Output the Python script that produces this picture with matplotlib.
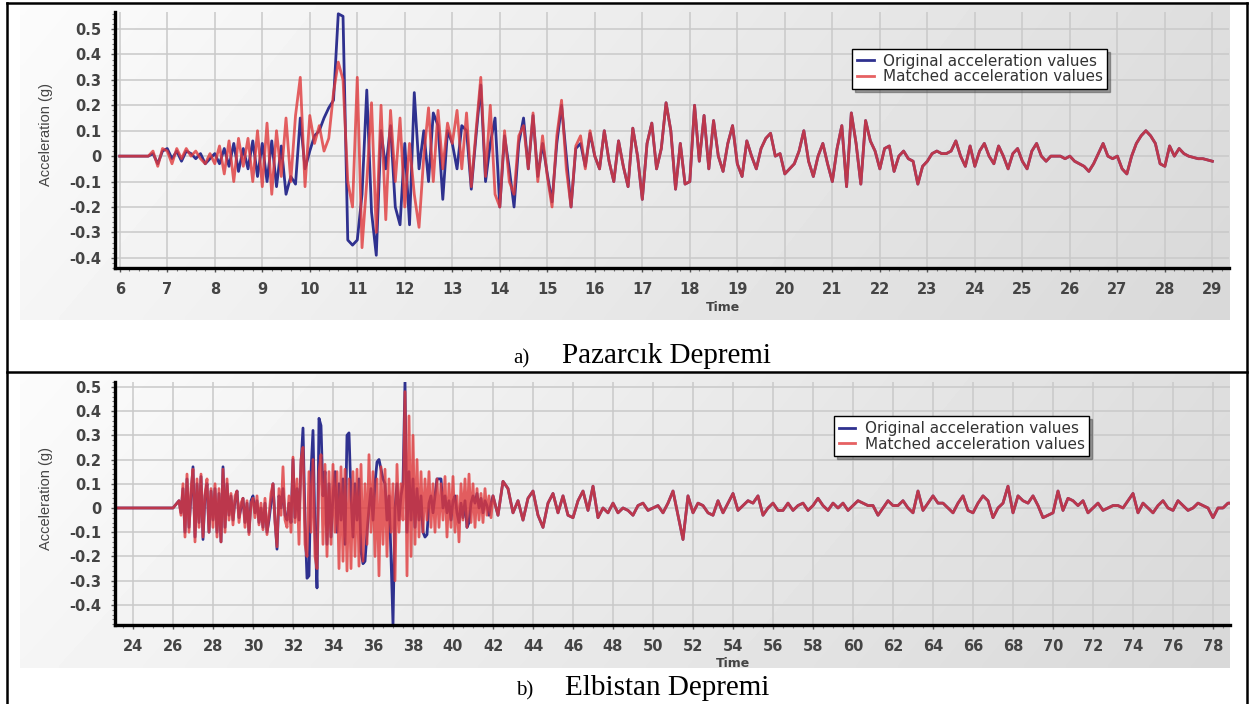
import numpy as np
import matplotlib.pyplot as plt
from matplotlib.lines import Line2D
from matplotlib.ticker import MultipleLocator, AutoMinorLocator

# --- a) Pazarcik: samples every 0.1 s starting at 6.0 s ---
pz_start, pz_dt = 6.0, 0.1
pz_original = [
    0.0, 0.0, 0.0, 0.0, 0.0, 0.0, 0.0, 0.01, -0.03, 0.02,            # 6
    0.03, -0.01, 0.02, -0.02, 0.02, 0.01, -0.01, 0.01, -0.03, -0.01,  # 7
    0.01, -0.03, 0.03, -0.04, 0.05, -0.06, 0.03, -0.05, 0.06, -0.08,  # 8
    0.05, -0.1, 0.06, -0.12, 0.04, -0.15, -0.08, -0.11, 0.15, -0.05,  # 9
    0.02, 0.08, 0.1, 0.15, 0.19, 0.22, 0.56, 0.55, -0.33, -0.35,      # 10
    -0.33, -0.15, 0.26, -0.22, -0.39, 0.1, -0.05, 0.12, -0.2, -0.27,  # 11
    0.05, -0.27, 0.25, -0.05, 0.1, -0.1, 0.17, 0.12, -0.17, 0.1,      # 12
    0.05, -0.05, 0.12, 0.1, -0.13, 0.08, 0.28, -0.1, 0.05, 0.15,      # 13
    -0.2, 0.08, -0.05, -0.2, 0.05, 0.15, -0.05, 0.16, -0.08, 0.05,    # 14
    -0.07, -0.18, 0.05, 0.2, 0.0, -0.2, 0.03, 0.05, -0.04, 0.09,      # 15
    0.0, -0.05, 0.1, -0.02, -0.1, 0.06, -0.04, -0.12, 0.11, 0.0,      # 16
    -0.17, 0.05, 0.13, -0.05, 0.03, 0.21, 0.1, -0.13, 0.05, -0.11,    # 17
    -0.1, 0.2, -0.02, 0.16, -0.05, 0.14, 0.0, -0.06, 0.05, 0.12,      # 18
    -0.03, -0.08, 0.06, 0.0, -0.05, 0.03, 0.07, 0.09, 0.0, 0.01,      # 19
    -0.07, -0.05, -0.03, 0.02, 0.1, -0.02, -0.08, 0.0, 0.05, -0.03,   # 20
    -0.1, 0.03, 0.12, -0.12, 0.17, 0.05, -0.11, 0.14, 0.06, 0.02,     # 21
    -0.05, 0.03, 0.04, -0.06, 0.0, 0.02, -0.01, -0.02, -0.11, -0.04,  # 22
    -0.02, 0.01, 0.02, 0.01, 0.01, 0.02, 0.06, 0.0, -0.04, 0.04,      # 23
    -0.04, 0.02, 0.05, 0.0, -0.03, 0.04, 0.0, -0.05, 0.01, 0.03,      # 24
    -0.02, -0.05, 0.02, 0.05, 0.0, -0.02, 0.0, 0.0, 0.0, -0.01,       # 25
    0.0, -0.02, -0.03, -0.04, -0.06, -0.03, 0.01, 0.05, 0.0, -0.01,   # 26
    0.0, -0.05, -0.07, 0.0, 0.05, 0.08, 0.1, 0.08, 0.05, -0.03,       # 27
    -0.04, 0.04, 0.0, 0.03, 0.01, 0.0, -0.005, -0.01, -0.01, -0.015,  # 28
    -0.02,                                                            # 29
]
# matched record differs up to ~16 s, then follows the original
pz_matched_head = [
    0.0, 0.0, 0.0, 0.0, 0.0, 0.0, 0.0, 0.02, -0.04, 0.03,             # 6
    0.02, -0.03, 0.03, -0.01, 0.03, 0.0, 0.02, -0.01, -0.03, 0.01,    # 7
    -0.03, 0.04, -0.07, 0.06, -0.1, 0.07, -0.04, 0.07, -0.1, 0.1,     # 8
    -0.12, 0.13, -0.15, 0.1, -0.08, 0.15, -0.1, 0.16, 0.31, -0.12,    # 9
    0.16, 0.05, 0.12, 0.02, 0.07, 0.25, 0.37, 0.3, -0.1, -0.2,        # 10
    0.31, -0.36, -0.1, 0.21, -0.3, 0.2, -0.25, 0.18, -0.1, 0.15,      # 11
    -0.2, 0.05, -0.15, -0.28, 0.0, 0.19, -0.1, 0.18, -0.05, 0.13,     # 12
    0.05, 0.18, -0.05, 0.17, -0.12, 0.1, 0.31, -0.08, 0.2, -0.15,     # 13
    -0.2, 0.1, -0.1, -0.15, 0.08, 0.12, -0.05, 0.17, -0.1, 0.08,      # 14
    -0.08, -0.2, 0.08, 0.22, -0.05, -0.2, 0.04, 0.08, -0.05, 0.1,     # 15
]

# --- b) Elbistan: quiet start, 0.1 s samples 26-42 s, then 0.25 s samples ---
eb_quiet_t = [23.1]
eb_quiet = [0.0]
eb_strong_start, eb_strong_dt = 26.0, 0.1
eb_original_strong = [
    0.0, 0.01, 0.02, 0.03, -0.02, 0.08, -0.1, 0.12, -0.08, 0.05,      # 26
    0.17, -0.12, 0.1, -0.06, 0.13, -0.13, 0.05, 0.1, -0.1, 0.07,      # 27
    -0.05, 0.08, -0.1, 0.06, -0.14, 0.17, -0.08, 0.1, -0.03, 0.05,    # 28
    -0.05, 0.03, 0.07, -0.04, 0.0, 0.04, -0.06, 0.02, -0.1, 0.03,     # 29
    0.05, -0.02, 0.03, -0.06, 0.0, -0.08, 0.02, -0.1, -0.05, 0.02,    # 30
    0.1, -0.05, -0.17, 0.05, 0.0, 0.08, -0.03, -0.05, 0.02, -0.06,    # 31
    0.2, -0.04, 0.08, -0.05, 0.18, 0.33, -0.05, -0.29, -0.28, 0.15,   # 32
    0.32, -0.1, -0.33, 0.37, 0.34, 0.05, 0.15, -0.15, 0.1, -0.12,     # 33
    0.05, 0.15, -0.1, 0.1, -0.05, 0.12, -0.15, 0.3, 0.31, 0.05,       # 34
    -0.12, 0.1, -0.05, 0.12, -0.18, -0.23, -0.22, -0.1, 0.0, 0.08,    # 35
    -0.05, 0.1, 0.19, 0.2, 0.16, 0.12, 0.1, -0.05, 0.05, -0.2,        # 36
    -0.48, 0.0, 0.1, -0.05, 0.05, 0.1, 0.52, -0.1, 0.15, -0.05,       # 37
    0.12, -0.08, 0.08, -0.05, 0.05, -0.1, -0.12, -0.11, 0.02, 0.05,   # 38
    -0.02, 0.05, 0.12, 0.12, 0.12, 0.0, 0.05, -0.02, 0.03, -0.05,     # 39
    0.03, 0.05, -0.02, -0.06, 0.02, -0.04, 0.03, -0.08, -0.06, 0.02,  # 40
    0.05, 0.02, 0.06, 0.0, 0.04, -0.02, 0.03, 0.01, -0.03, 0.02,      # 41
]
eb_matched_strong = [
    0.0, 0.01, 0.02, 0.03, -0.03, 0.1, -0.12, 0.14, -0.1, 0.08,       # 26
    0.16, -0.14, 0.12, -0.08, 0.14, -0.12, 0.06, 0.12, -0.1, 0.08,    # 27
    -0.08, 0.1, -0.12, 0.08, -0.14, 0.16, -0.1, 0.12, -0.05, 0.06,    # 28
    -0.07, 0.05, 0.07, -0.06, 0.02, 0.04, -0.08, 0.03, -0.11, 0.02,   # 29
    0.04, -0.04, 0.05, -0.07, 0.02, -0.09, 0.04, -0.11, -0.03, 0.06,  # 30
    0.1, -0.06, -0.16, 0.08, -0.03, 0.17, -0.05, -0.08, 0.05, -0.1,   # 31
    0.21, -0.06, 0.12, -0.15, 0.2, 0.25, -0.15, -0.2, 0.15, -0.1,     # 32
    0.2, -0.2, -0.25, 0.15, 0.22, -0.15, 0.18, -0.2, 0.15, -0.15,     # 33
    0.18, -0.1, 0.15, -0.25, 0.17, -0.22, 0.16, -0.26, 0.12, -0.25,   # 34
    0.15, -0.2, 0.16, -0.24, 0.18, -0.22, 0.1, -0.15, 0.22, -0.1,     # 35
    0.15, -0.2, 0.12, -0.28, 0.17, -0.15, 0.16, -0.2, 0.12, -0.1,     # 36
    0.1, -0.3, 0.18, -0.1, 0.1, -0.05, 0.48, -0.28, 0.38, -0.2,       # 37
    0.3, -0.15, 0.2, -0.12, 0.15, -0.1, 0.12, -0.05, 0.15, -0.08,     # 38
    0.1, -0.1, 0.12, -0.08, 0.1, -0.05, 0.13, -0.12, 0.1, -0.08,      # 39
    0.13, -0.1, 0.05, -0.14, 0.1, -0.05, 0.12, -0.08, 0.14, -0.06,    # 40
    0.1, -0.08, 0.08, -0.05, 0.06, -0.06, 0.08, -0.03, 0.05, -0.04,   # 41
]
# both records nearly coincide after 42 s
eb_tail_start, eb_tail_dt = 42.0, 0.25
eb_tail = [
    0.05, -0.03, 0.11, 0.08, -0.02, 0.03, -0.05, 0.04,     # 42-44
    0.07, -0.03, -0.08, 0.02, 0.06, -0.02, 0.05, -0.03,    # 44-46
    -0.04, 0.03, 0.07, -0.01, 0.09, -0.04, 0.0, -0.02,     # 46-48
    0.02, -0.02, 0.0, -0.01, -0.03, 0.01, 0.02, -0.01,     # 48-50
    0.0, 0.01, -0.02, 0.02, 0.07, -0.03, -0.13, 0.05,      # 50-52
    -0.02, 0.02, 0.01, -0.02, -0.03, 0.03, -0.02, 0.02,    # 52-54
    0.06, -0.01, 0.01, 0.03, 0.02, 0.05, -0.03, 0.0,       # 54-56
    0.02, -0.01, -0.01, 0.02, -0.01, 0.01, 0.02, -0.01,    # 56-58
    0.01, 0.04, 0.01, -0.01, 0.02, 0.0, 0.02, -0.01,       # 58-60
    0.01, 0.03, 0.02, 0.01, 0.01, -0.03, 0.0, 0.03,        # 60-62
    0.01, 0.01, 0.03, 0.0, -0.02, 0.07, -0.01, 0.02,       # 62-64
    0.05, 0.02, 0.02, 0.0, -0.02, 0.02, 0.05, -0.01,       # 64-66
    -0.02, 0.02, 0.05, 0.03, -0.04, 0.0, 0.02, 0.09,       # 66-68
    -0.02, 0.05, 0.03, 0.02, 0.05, 0.01, -0.04, -0.03,     # 68-70
    -0.02, 0.07, -0.01, 0.04, 0.03, 0.01, 0.03, -0.02,     # 70-72
    0.0, 0.02, -0.01, 0.0, 0.01, 0.01, 0.0, 0.03,          # 72-74
    0.06, -0.02, 0.02, 0.0, -0.02, 0.01, 0.03, 0.0,        # 74-76
    -0.01, 0.03, 0.01, -0.01, 0.0, 0.02, 0.01, 0.0,        # 76-78
    -0.04, 0.0, 0.0, 0.02, 0.02,                           # 78-79
]

legend_labels = ['Original acceleration values', 'Matched acceleration values']
captions = [('a)', 'Pazarcık Depremi'), ('b)', 'Elbistan Depremi')]

BLUE = '#2f318f'
RED = '#e0393b'
W, H = 1250, 704


def fig_rect(x0, y0, x1, y1):
    # pixel box (top-left origin) -> figure fraction rect
    return [x0 / W, 1 - y1 / H, (x1 - x0) / W, (y1 - y0) / H]


def backdrop(fig, box):
    bg = fig.add_axes(fig_rect(*box), zorder=0)
    gx = np.linspace(0.985, 0.87, 200)
    gy = np.linspace(1.0, 0.975, 60)
    bg.imshow(np.outer(gy, gx), cmap='gray', vmin=0, vmax=1,
              aspect='auto', interpolation='bilinear')
    bg.axis('off')


def draw_panel(fig, box, t, orig, matched, xlim, ylim, xstep, xminor,
               legend_xy, time_x):
    ax = fig.add_axes(fig_rect(*box), zorder=2)
    ax.set_facecolor('none')
    ax.plot(t, orig, color=BLUE, lw=2.0, label=legend_labels[0])
    ax.plot(t, matched, color=RED, lw=2.0, alpha=0.8, label=legend_labels[1])

    ax.set_xlim(*xlim)
    ax.set_ylim(*ylim)
    ax.xaxis.set_major_locator(MultipleLocator(xstep))
    ax.xaxis.set_minor_locator(AutoMinorLocator(xminor))
    ax.yaxis.set_major_locator(MultipleLocator(0.1))
    ax.yaxis.set_minor_locator(AutoMinorLocator(5))
    ax.yaxis.set_major_formatter(plt.FuncFormatter(lambda v, p: f'{v:g}' if abs(v) > 1e-9 else '0'))
    ax.grid(True, which='major', color='#c9c9c9', lw=1.1)
    ax.set_axisbelow(True)

    for side in ('top', 'right'):
        ax.spines[side].set_visible(False)
    for side in ('left', 'bottom'):
        ax.spines[side].set_linewidth(2.4)
        ax.spines[side].set_color('black')
    ax.tick_params(which='major', length=3, width=1, color='#555555',
                   labelsize=10.5, labelcolor='#444444', pad=7)
    ax.tick_params(which='minor', length=2, width=0.8, color='#777777')
    for lab in ax.get_xticklabels() + ax.get_yticklabels():
        lab.set_fontweight('bold')

    ax.set_xlabel('Time', fontsize=9, fontweight='bold', color='#444444')
    ax.xaxis.set_label_coords(time_x, -0.13)
    ax.set_ylabel('Acceleration (g)', fontsize=10.5, color='#444444',
                  family='Liberation Sans')
    ax.yaxis.set_label_coords(-0.056, 0.52)

    leg = ax.legend(loc='upper left', bbox_to_anchor=legend_xy, fontsize=11,
                    handlelength=1.1, handletextpad=0.6, labelspacing=0.05,
                    borderpad=0.3, fancybox=False, shadow=True,
                    edgecolor='black', framealpha=1)
    leg.get_frame().set_linewidth(1.0)
    for txt in leg.get_texts():
        txt.set_color('#333333')
    return ax


fig = plt.figure(figsize=(12.5, 7.04), dpi=100)

# panel a
t_a = pz_start + pz_dt * np.arange(len(pz_original))
matched_a = pz_matched_head + pz_original[len(pz_matched_head):]
backdrop(fig, (20, 5, 1230, 320))
draw_panel(fig, (115, 12, 1229, 268), t_a, pz_original, matched_a,
           (5.9, 29.35), (-0.44, 0.567), 1, 5, (0.655, 0.885), 0.546)

# panel b
t_b = np.concatenate([eb_quiet_t,
                      eb_strong_start + eb_strong_dt * np.arange(len(eb_original_strong)),
                      eb_tail_start + eb_tail_dt * np.arange(len(eb_tail))])
orig_b = eb_quiet + eb_original_strong + eb_tail
matched_b = eb_quiet + eb_matched_strong + eb_tail
backdrop(fig, (20, 374, 1230, 668))
draw_panel(fig, (115, 382, 1230, 625), t_b, orig_b, matched_b,
           (23.1, 78.85), (-0.483, 0.52), 2, 4, (0.638, 0.89), 0.554)

# table borders
for x0, y0, x1, y1 in [(7, 3, 1247, 3), (7, 372, 1247, 372),
                       (7, 3, 7, 704), (1247, 3, 1247, 704)]:
    fig.add_artist(Line2D([x0 / W, x1 / W], [1 - y0 / H, 1 - y1 / H],
                          color='black', lw=1.8, transform=fig.transFigure))

# captions
for (tag, name), (xa, xn, yb) in zip(captions, [(513, 562, 363), (516, 565, 695)]):
    fig.text(xa / W, 1 - yb / H, tag, fontsize=15, family='Liberation Serif',
             va='baseline')
    fig.text(xn / W, 1 - yb / H, name, fontsize=21, family='Liberation Serif',
             va='baseline')

fig.savefig('out.png', dpi=100)
